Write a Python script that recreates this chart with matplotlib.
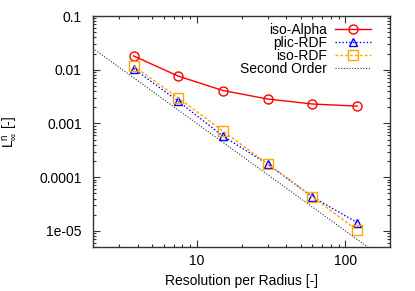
import numpy as np
import matplotlib
matplotlib.use('Agg')
import matplotlib.pyplot as plt
from matplotlib.ticker import LogLocator, NullFormatter, FixedLocator, FixedFormatter

plt.rcParams['font.family'] = ['Liberation Sans', 'DejaVu Sans']
plt.rcParams['mathtext.fontset'] = 'custom'
plt.rcParams['mathtext.rm'] = 'Liberation Sans'
plt.rcParams['mathtext.it'] = 'Liberation Sans'

# resolution per radius
resolution = [3.75, 7.5, 15, 30, 60, 120]

# L_inf errors
iso_alpha = [0.0181, 0.0076, 0.0041, 0.00285, 0.0023, 0.0021]
plic_rdf = [0.0105, 0.0026, 0.00058, 0.000175, 4.3e-05, 1.43e-05]
iso_rdf = [0.0117, 0.0030, 0.00072, 0.000177, 4.3e-05, 1.03e-05]

# second order reference line end points
order_x = [2, 200]
order_y = [0.025, 2.5e-06]

yticks = [1e-5, 1e-4, 1e-3, 1e-2, 1e-1]
ytick_labels = ['1e-05', '0.0001', '0.001', '0.01', '0.1']
xticks = [10, 100]
xtick_labels = ['10', '100']

fig = plt.figure(figsize=(4.15, 2.91), dpi=100)
ax = fig.add_axes([0.224, 0.151, 0.716, 0.794])

ax.plot(resolution, iso_alpha, color='#ff0000', lw=1.0, marker='o', ms=6.5,
        mfc='none', mec='#ff0000', mew=1.0, label='iso-Alpha')
ax.plot(resolution, plic_rdf, color='#0000ff', lw=1.0, ls=(0, (1, 1.5)), marker='^', ms=5.5,
        mfc='none', mec='#0000ff', mew=1.0, label='plic-RDF')
ax.plot(resolution, iso_rdf, color='#ffa500', lw=1.0, ls=(0, (2, 1.5)), marker='s', ms=6.5,
        mfc='none', mec='#ffa500', mew=1.0, label='iso-RDF')
ax.plot(order_x, order_y, color='#333333', lw=0.8, ls=(0, (1, 1.5)), label='Second Order')

ax.set_xscale('log')
ax.set_yscale('log')
ax.set_xlim(2, 200)
ax.set_ylim(5e-6, 0.1)

ax.yaxis.set_major_locator(FixedLocator(yticks))
ax.yaxis.set_major_formatter(FixedFormatter(ytick_labels))
ax.xaxis.set_major_locator(FixedLocator(xticks))
ax.xaxis.set_major_formatter(FixedFormatter(xtick_labels))
ax.xaxis.set_minor_locator(LogLocator(base=10, subs=np.arange(2, 10), numticks=20))
ax.yaxis.set_minor_locator(LogLocator(base=10, subs=np.arange(2, 10), numticks=20))
ax.xaxis.set_minor_formatter(NullFormatter())
ax.yaxis.set_minor_formatter(NullFormatter())

ax.tick_params(which='both', direction='in', top=True, right=True, labelsize=10,
               color='#333333', width=0.8)
ax.tick_params(which='major', length=5)
ax.tick_params(axis='y', which='major', pad=8)
ax.tick_params(axis='x', which='major', pad=5)
ax.tick_params(which='minor', length=2.5)
for s in ax.spines.values():
    s.set_color('#333333')
    s.set_linewidth(1.0)

ax.set_xlabel('Resolution per Radius [-]', fontsize=10, labelpad=4)
ax.set_ylabel(r'$\mathrm{L}_{\infty}^{n}$ [-]', fontsize=10, labelpad=15)

ax.legend(loc='upper right', markerfirst=False, frameon=False, fontsize=10,
          labelspacing=-0.08, handlelength=2.6, handletextpad=0.6,
          borderaxespad=0.3, borderpad=0.2, bbox_to_anchor=(0.96, 1.0))

fig.savefig('out.png', dpi=100)
